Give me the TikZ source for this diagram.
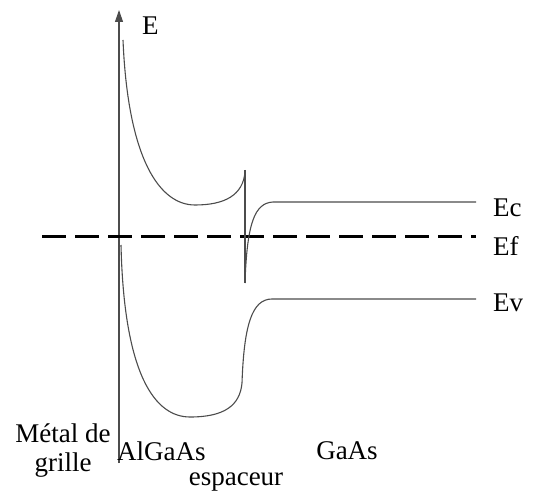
\documentclass[tikz,border=0pt]{standalone}
\usepackage{fontspec}
\setmainfont{Liberation Serif}
\usetikzlibrary{arrows.meta}
\begin{document}
\begin{tikzpicture}[x=1pt,y=-1pt,
  band/.style={draw=black!70,line width=1.1pt},
  lbl/.style={font=\fontsize{27}{29}\selectfont,inner sep=0pt},
  fermi/.style={draw=black,line width=3pt,dash pattern=on 24pt off 9pt}]
\useasboundingbox (0,0) rectangle (537,494);
% axis
\coordinate (ax0) at (119,463);
\coordinate (ax1) at (119,10);
\draw[black!70,line width=1.1pt,-{Triangle[length=12pt,width=8pt]}] (ax0) -- (ax1);
\node[lbl,anchor=west] (E) at (142,26) {E};
% Fermi level
\coordinate (f0) at (42,236);
\coordinate (f1) at (476,236);
\draw[fermi] (f0) -- (f1);
% conduction band
\coordinate (c0) at (123,40);
\coordinate (c1) at (195,205);
\coordinate (c2) at (245,172);
\coordinate (c3) at (245,283);
\coordinate (c4) at (273,202);
\coordinate (c5) at (476,202);
\draw[band] (c0) .. controls (128,160) and (160,205) .. (c1)
  .. controls (225,205) and (243,195) .. (c2);
\draw[band] (245,170) -- (c3);
\draw[band] (c3) .. controls (247,222) and (255,203) .. (c4) -- (c5);
% valence band
\coordinate (v0) at (121,245);
\coordinate (v1) at (190,417);
\coordinate (v2) at (242,383);
\coordinate (v3) at (272,299);
\coordinate (v4) at (476,299);
\draw[band] (v0) .. controls (124,375) and (155,417) .. (v1)
  .. controls (225,417) and (240,405) .. (v2)
  .. controls (244,325) and (252,299) .. (v3) -- (v4);
% labels
\node[lbl,anchor=west] (Ec) at (493,208) {Ec};
\node[lbl,anchor=west] (Ef) at (493,246) {Ef};
\node[lbl,anchor=west] (Ev) at (493,303) {Ev};
\node[lbl] (metal) at (63,433) {Métal de};
\node[lbl] (grille) at (63,465) {grille};
\node[lbl,anchor=west] (algaas) at (117,451) {AlGaAs};
\node[lbl] (gaas) at (347,451) {GaAs};
\node[lbl] (esp) at (236,482) {espaceur};
\end{tikzpicture}
\end{document}
